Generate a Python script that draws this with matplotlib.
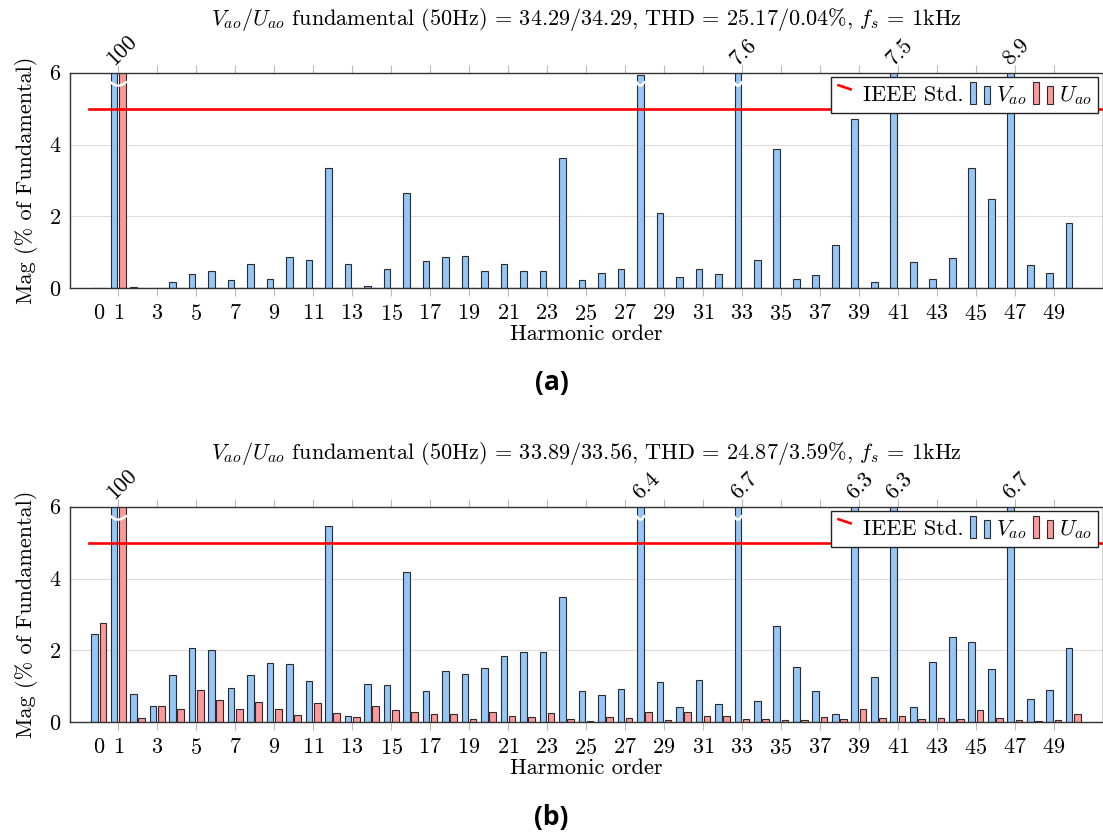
import numpy as np
import matplotlib.pyplot as plt
from matplotlib.legend_handler import HandlerBase
from matplotlib.lines import Line2D
from matplotlib.patches import Rectangle, Patch

plt.rcParams['font.family'] = 'serif'
plt.rcParams['font.serif'] = ['cmr10']
plt.rcParams['mathtext.fontset'] = 'cm'
plt.rcParams['axes.formatter.use_mathtext'] = True
plt.rcParams['font.size'] = 16

# harmonic spectra in % of fundamental, orders 0..50
harmonics = np.arange(51)

vao_a = [0.0, 100.0, 0.05, 0.02, 0.17, 0.39, 0.47, 0.22, 0.69, 0.26,
         0.86, 0.80, 3.34, 0.67, 0.06, 0.53, 2.64, 0.77, 0.86, 0.89,
         0.48, 0.67, 0.47, 0.49, 3.62, 0.22, 0.42, 0.55, 5.93, 2.10,
         0.31, 0.53, 0.39, 7.6, 0.78, 3.87, 0.25, 0.36, 1.21, 4.72,
         0.17, 7.5, 0.72, 0.27, 0.84, 3.36, 2.48, 8.9, 0.66, 0.42,
         1.83]
uao_a = [0.0, 100.0, 0.0, 0.0, 0.0, 0.0, 0.0, 0.0, 0.0, 0.0,
         0.0, 0.0, 0.0, 0.0, 0.0, 0.0, 0.0, 0.0, 0.0, 0.0,
         0.0, 0.0, 0.0, 0.0, 0.0, 0.0, 0.0, 0.0, 0.01, 0.0,
         0.0, 0.0, 0.0, 0.01, 0.0, 0.0, 0.0, 0.0, 0.0, 0.0,
         0.0, 0.01, 0.0, 0.0, 0.0, 0.0, 0.0, 0.01, 0.0, 0.0,
         0.0]

vao_b = [2.45, 100.0, 0.80, 0.45, 1.32, 2.07, 2.00, 0.95, 1.32, 1.65,
         1.61, 1.14, 5.45, 0.17, 1.07, 1.03, 4.17, 0.88, 1.43, 1.34,
         1.51, 1.84, 1.96, 1.95, 3.50, 0.87, 0.77, 0.92, 6.4, 1.12,
         0.42, 1.17, 0.51, 6.7, 0.58, 2.69, 1.54, 0.86, 0.23, 6.3,
         1.27, 6.3, 0.43, 1.69, 2.36, 2.23, 1.48, 6.7, 0.66, 0.89,
         2.06]
uao_b = [2.75, 100.0, 0.11, 0.44, 0.36, 0.90, 0.63, 0.36, 0.57, 0.36,
         0.19, 0.54, 0.27, 0.15, 0.46, 0.33, 0.28, 0.23, 0.23, 0.08,
         0.29, 0.17, 0.15, 0.27, 0.08, 0.05, 0.14, 0.11, 0.30, 0.07,
         0.29, 0.17, 0.17, 0.08, 0.10, 0.07, 0.06, 0.15, 0.10, 0.37,
         0.13, 0.18, 0.09, 0.13, 0.09, 0.34, 0.11, 0.06, 0.05, 0.06,
         0.22]

titles = [r'$V_{ao}/U_{ao}$ fundamental (50Hz) = 34.29/34.29, THD = 25.17/0.04%, $f_s$ = 1kHz',
          r'$V_{ao}/U_{ao}$ fundamental (50Hz) = 33.89/33.56, THD = 24.87/3.59%, $f_s$ = 1kHz']
captions = ['(a)', '(b)']
ieee_limit = 5.0
x_ticks = [0, 1] + list(range(3, 50, 2))

blue = '#94C6F8'
red = '#FF9999'
edge = '#2b2b2b'
ymax = 6
bw = 0.34
shift = 0.21


class SlantLine(HandlerBase):
    def create_artists(self, legend, orig, x0, y0, w, h, fontsize, trans):
        ln = Line2D([x0 + 0.05 * w, x0 + 0.65 * w], [y0 + 1.0 * h, y0 + 0.74 * h],
                    color=orig.get_color(), lw=orig.get_linewidth(), transform=trans)
        return [ln]


class TwoBars(HandlerBase):
    def create_artists(self, legend, orig, x0, y0, w, h, fontsize, trans):
        b = 0.3 * w
        r1 = Rectangle((x0, y0 - 0.2 * h), b, 1.4 * h, fc=orig.get_facecolor(),
                       ec=edge, lw=0.8, transform=trans)
        r2 = Rectangle((x0 + w - b, y0 - 0.2 * h), b, 1.15 * h, fc=orig.get_facecolor(),
                       ec=edge, lw=0.8, transform=trans)
        return [r1, r2]


def break_mark(ax, x0, x1):
    xs = np.linspace(x0, x1, 30)
    ys = 5.74 - 0.1 * np.sin(np.pi * (xs - x0) / (x1 - x0))
    ax.plot(xs, ys, color='white', lw=1.8, zorder=4, solid_capstyle='round')


fig = plt.figure(figsize=(11.03, 8.36), dpi=100)
W, H = 1103, 836
panels = [(vao_a, uao_a, 288.3), (vao_b, uao_b, 722.3)]

for i, (v, u, y0) in enumerate(panels):
    ax = fig.add_axes([69.5 / W, 1 - y0 / H, 1033 / W, 215.6 / H])
    ax.bar(harmonics - shift, v, bw, color=blue, edgecolor=edge, lw=0.8, zorder=2)
    ax.bar(harmonics + shift, u, bw, color=red, edgecolor=edge, lw=0.8, zorder=2)
    ax.plot([-0.5, 51.5], [ieee_limit, ieee_limit], color='#FF0000', lw=1.9, zorder=3)

    for h in harmonics:
        vb, ub = v[h], u[h]
        if vb > 5.8 and ub > 5.8:
            break_mark(ax, h - shift - bw / 2 - 0.03, h + shift + bw / 2 + 0.03)
        elif vb > 5.8:
            break_mark(ax, h - shift - bw / 2 - 0.03, h - shift + bw / 2 + 0.03)
        elif ub > 5.8:
            break_mark(ax, h + shift - bw / 2 - 0.03, h + shift + bw / 2 + 0.03)
        top = max(vb, ub)
        if top > ymax:
            ax.annotate(f'{top:g}', xy=(h, ymax), xytext=(-6, 8.0),
                        textcoords='offset points', rotation=45,
                        rotation_mode='anchor', ha='left', va='center',
                        annotation_clip=False)

    ax.set_xlim(-1.5, 51.5)
    ax.set_ylim(0, ymax)
    ax.set_xticks(x_ticks)
    ax.set_yticks([0, 2, 4, 6])
    ax.yaxis.grid(True, color='#DDDDDD', lw=0.8)
    ax.set_axisbelow(True)
    ax.tick_params(axis='x', direction='out', length=6, width=0.8,
                   color='#BBBBBB', top=True, pad=5)
    ax.tick_params(axis='y', length=0, pad=6)
    t0 = ax.xaxis.get_major_ticks()[0]
    t0.tick1line.set_visible(False)
    t0.tick2line.set_visible(False)
    for s in ax.spines.values():
        s.set_color('#333333')
        s.set_linewidth(1.0)

    ax.set_xlabel('Harmonic order', labelpad=1)
    ax.set_ylabel('Mag (% of Fundamental)', labelpad=8)
    ax.set_title(titles[i], pad=34, fontsize=16)

    handles = [Line2D([], [], color='#FF0000', lw=1.9),
               Patch(facecolor=blue, edgecolor=edge),
               Patch(facecolor=red, edgecolor=edge)]
    labels = ['IEEE Std.', r'$V_{ao}$', r'$U_{ao}$']
    leg = ax.legend(handles, labels, loc='upper right', ncol=3,
                    handler_map={Line2D: SlantLine(), Patch: TwoBars()},
                    handlelength=0.9, handletextpad=0.25, columnspacing=0.3,
                    borderaxespad=0.2, borderpad=0.3, fancybox=False,
                    edgecolor='#222222', framealpha=1)
    leg.get_frame().set_linewidth(1.0)
    leg.set_zorder(5)

    fig.text(0.5, 1 - (383 + 435 * i) / H, captions[i], ha='center', va='center',
             fontfamily='Open Sans', fontweight='bold', fontsize=19)

fig.savefig('out.png', dpi=100)
